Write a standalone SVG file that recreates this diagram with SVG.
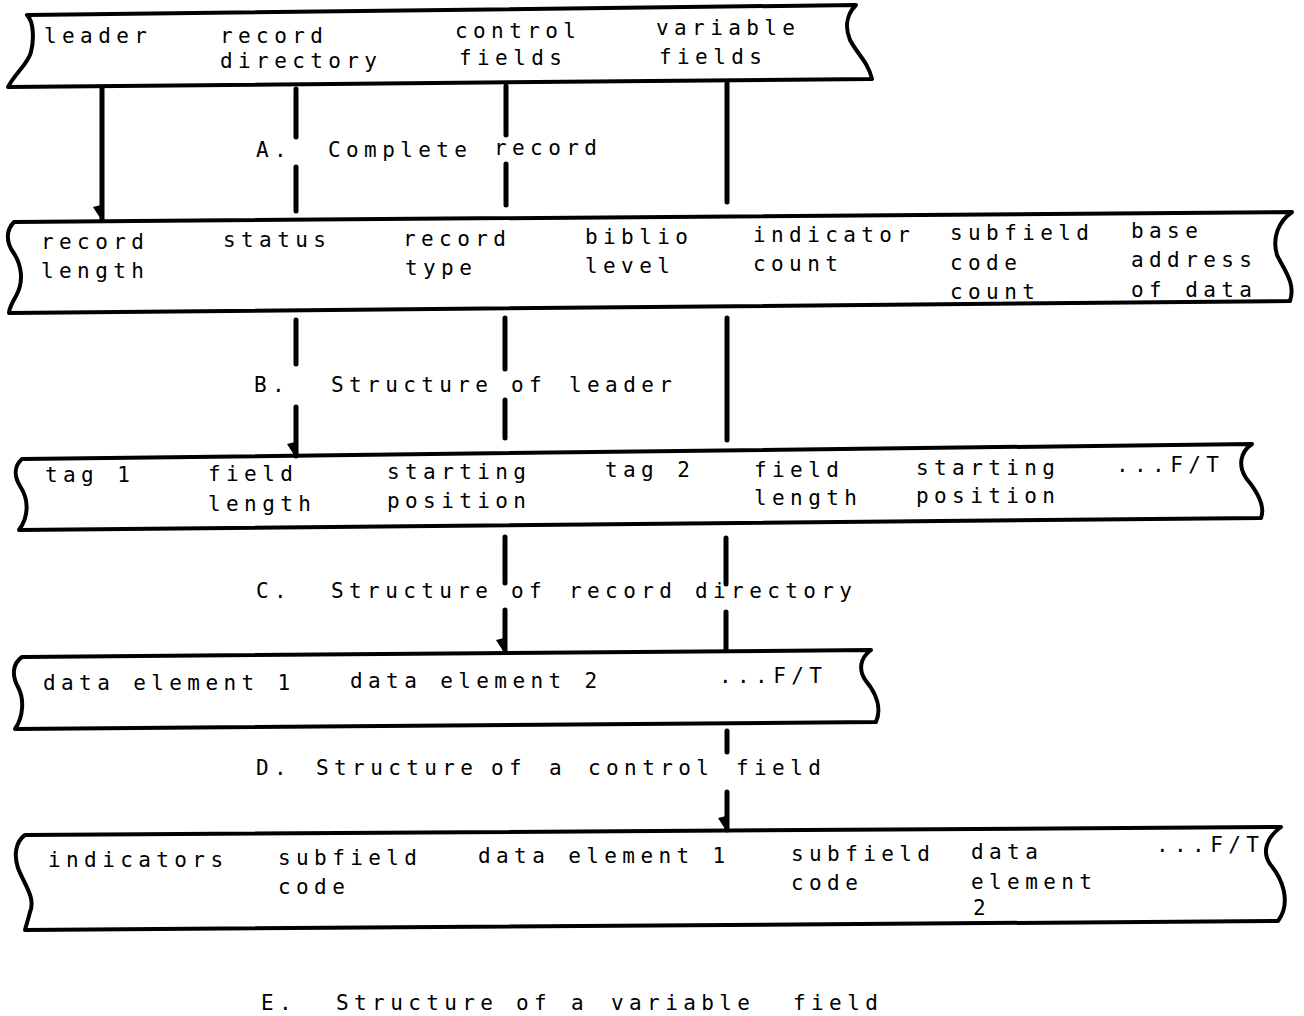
<svg xmlns="http://www.w3.org/2000/svg" width="1304" height="1016" viewBox="0 0 1304 1016">
<defs>
<style>
.b{fill:#fff;stroke:#000;stroke-width:4;stroke-linejoin:round}
.t{font-family:"DejaVu Sans Mono","Liberation Mono",monospace;font-size:21px;letter-spacing:5.4px;fill:#000}
.c{stroke:#000;stroke-width:5;stroke-linecap:round;fill:none}
</style>
<marker id="ah" markerUnits="userSpaceOnUse" markerWidth="20" markerHeight="20" refX="0" refY="0" orient="auto" overflow="visible">
<path d="M2,0 L-14,1 L-12,9 Z" fill="#000"/>
</marker>
</defs>
<rect width="1304" height="1016" fill="#fff"/>

<g id="bandA">
<path class="b" d="M27,15 L856,5 C846,15 845,28 850,40 C858,55 868,62 872,79 L8,87 C16,72 28,64 31,52 C34,40 34,22 27,15 Z"/>
<text class="t" x="44" y="43">leader</text>
<text class="t" x="220" y="43">record</text>
<text class="t" x="220" y="68">directory</text>
<text class="t" x="455" y="38">control</text>
<text class="t" x="459" y="65">fields</text>
<text class="t" x="656" y="35">variable</text>
<text class="t" x="659" y="64">fields</text>
</g>

<g id="bandB">
<path class="b" d="M14,222 L1292,212 C1278,222 1272,238 1277,255 C1284,270 1296,283 1290,301 L9,313 C9,308 12,303 16,296 C24,282 22,265 13,252 C6,242 6,230 14,222 Z"/>
<text class="t" x="41" y="249">record</text>
<text class="t" x="41" y="278">length</text>
<text class="t" x="223" y="247">status</text>
<text class="t" x="403" y="246">record</text>
<text class="t" x="405" y="275">type</text>
<text class="t" x="585" y="244">biblio</text>
<text class="t" x="585" y="273">level</text>
<text class="t" x="753" y="242">indicator</text>
<text class="t" x="753" y="271">count</text>
<text class="t" x="950" y="240">subfield</text>
<text class="t" x="950" y="270">code</text>
<text class="t" x="950" y="299">count</text>
<text class="t" x="1131" y="238">base</text>
<text class="t" x="1131" y="267">address</text>
<text class="t" x="1131" y="297">of data</text>
</g>

<g id="bandC">
<path class="b" d="M22,459 L1252,444 C1240,452 1238,466 1246,478 C1256,490 1266,505 1261,518 L19,530 C30,515 28,498 20,486 C14,476 14,466 22,459 Z"/>
<text class="t" x="45" y="482">tag 1</text>
<text class="t" x="208" y="481">field</text>
<text class="t" x="208" y="511">length</text>
<text class="t" x="387" y="479">starting</text>
<text class="t" x="387" y="508">position</text>
<text class="t" x="605" y="477">tag 2</text>
<text class="t" x="754" y="477">field</text>
<text class="t" x="754" y="505">length</text>
<text class="t" x="916" y="475">starting</text>
<text class="t" x="916" y="503">position</text>
<text class="t" x="1116" y="472">...F/T</text>
</g>

<g id="bandD">
<path class="b" d="M22,657 L871,650 C860,658 858,670 866,681 C876,693 882,708 876,722 L15,729 C24,716 24,698 18,687 C12,676 12,664 22,657 Z"/>
<text class="t" x="43" y="690">data element 1</text>
<text class="t" x="350" y="688">data element 2</text>
<text class="t" x="719" y="683">...F/T</text>
</g>

<g id="bandE">
<path class="b" d="M25,835 L1281,827 C1266,838 1262,852 1270,864 C1282,878 1292,902 1278,921 L25,930 C26,926 28,920 30,912 C36,898 24,884 18,868 C14,856 15,842 25,835 Z"/>
<text class="t" x="48" y="867">indicators</text>
<text class="t" x="278" y="865">subfield</text>
<text class="t" x="278" y="894">code</text>
<text class="t" x="478" y="863">data element 1</text>
<text class="t" x="791" y="861">subfield</text>
<text class="t" x="791" y="890">code</text>
<text class="t" x="971" y="859">data</text>
<text class="t" x="971" y="889">element</text>
<text class="t" x="973" y="915">2</text>
<text class="t" x="1156" y="852">...F/T</text>
</g>

<g id="labels">
<text class="t" y="157"><tspan x="256">A.</tspan><tspan x="328">Complete</tspan><tspan x="494" y="155">record</tspan></text>
<text class="t" y="392"><tspan x="254">B.</tspan><tspan x="331">Structure</tspan><tspan x="511">of</tspan><tspan x="569">leader</tspan></text>
<text class="t" y="598"><tspan x="256">C.</tspan><tspan x="331">Structure</tspan><tspan x="511">of</tspan><tspan x="569">record</tspan><tspan x="695">directory</tspan></text>
<text class="t" y="775"><tspan x="256">D.</tspan><tspan x="316">Structure</tspan><tspan x="491">of</tspan><tspan x="549">a</tspan><tspan x="588">control</tspan><tspan x="736">field</tspan></text>
<text class="t" y="1010"><tspan x="261">E.</tspan><tspan x="336">Structure</tspan><tspan x="516">of</tspan><tspan x="571">a</tspan><tspan x="611">variable</tspan><tspan x="793">field</tspan></text>
</g>

<g id="connectors">
<line class="c" x1="102" y1="88" x2="102" y2="219" marker-end="url(#ah)"/>
<line class="c" x1="296" y1="89" x2="296" y2="137"/>
<line class="c" x1="296" y1="167" x2="296" y2="211"/>
<line class="c" x1="506" y1="86" x2="506" y2="135"/>
<line class="c" x1="506" y1="164" x2="506" y2="205"/>
<line class="c" x1="727" y1="83" x2="727" y2="202"/>

<line class="c" x1="296" y1="320" x2="296" y2="364"/>
<line class="c" x1="296" y1="407" x2="296" y2="456" marker-end="url(#ah)"/>
<line class="c" x1="505" y1="318" x2="505" y2="369"/>
<line class="c" x1="505" y1="400" x2="505" y2="438"/>
<line class="c" x1="727" y1="318" x2="727" y2="440"/>

<line class="c" x1="505" y1="537" x2="505" y2="583"/>
<line class="c" x1="505" y1="610" x2="505" y2="652" marker-end="url(#ah)"/>
<line class="c" x1="726" y1="538" x2="726" y2="584"/>
<line class="c" x1="726" y1="612" x2="726" y2="649"/>

<line class="c" x1="727" y1="731" x2="727" y2="752"/>
<line class="c" x1="727" y1="792" x2="727" y2="830" marker-end="url(#ah)"/>
</g>
</svg>
